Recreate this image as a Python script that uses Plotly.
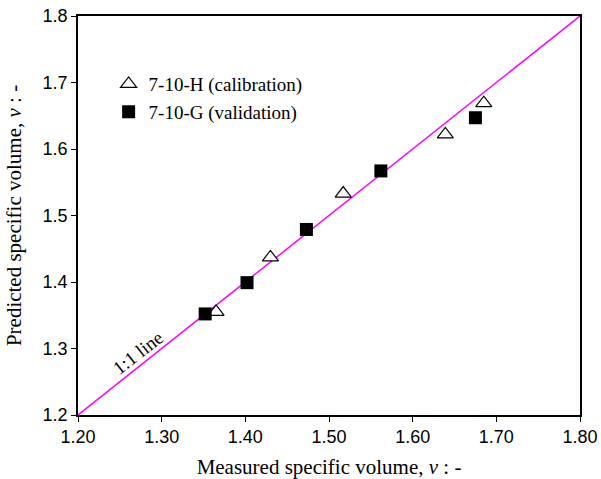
import plotly.graph_objects as go

# Data
cal_measured = [1.365, 1.430, 1.517, 1.639, 1.685]
cal_predicted = [1.355, 1.437, 1.533, 1.622, 1.669]
val_measured = [1.352, 1.402, 1.473, 1.562, 1.675]
val_predicted = [1.352, 1.399, 1.479, 1.567, 1.647]
line_vals = [1.2, 1.8]
x_ticks = [1.2, 1.3, 1.4, 1.5, 1.6, 1.7, 1.8]
x_tick_labels = ["1.20", "1.30", "1.40", "1.50", "1.60", "1.70", "1.80"]
y_ticks = [1.2, 1.3, 1.4, 1.5, 1.6, 1.7, 1.8]
y_tick_labels = ["1.2", "1.3", "1.4", "1.5", "1.6", "1.7", "1.8"]

serif = "Liberation Serif, Times New Roman, serif"
sans = "Liberation Sans, Arial, sans-serif"

fig = go.Figure()
fig.add_trace(go.Scatter(
    x=line_vals, y=line_vals, mode="lines",
    line=dict(color="#ff00ff", width=1.5), showlegend=False, hoverinfo="skip"))
fig.add_trace(go.Scatter(
    x=cal_measured, y=cal_predicted, mode="markers", name="7-10-H (calibration)",
    legendgroup="a",
    marker=dict(symbol="triangle-up", size=14, color="white",
                line=dict(color="black", width=1.2))))
fig.add_trace(go.Scatter(
    x=val_measured, y=val_predicted, mode="markers", name="7-10-G (validation)",
    legendgroup="b",
    marker=dict(symbol="square", size=13, color="black",
                line=dict(color="black", width=0))))

fig.add_annotation(x=1.272, y=1.294, xref="x", yref="y", text="1:1 line",
                   showarrow=False, textangle=-38,
                   font=dict(family=serif, size=19, color="black"))

fig.update_layout(
    width=601, height=479,
    margin=dict(l=78, r=21, t=16, b=64),
    paper_bgcolor="white", plot_bgcolor="white",
    showlegend=True,
    legend=dict(x=0.061, y=0.877, xanchor="left", yanchor="top",
                font=dict(family=serif, size=19, color="black"),
                bgcolor="rgba(0,0,0,0)", tracegroupgap=0,
                traceorder="grouped", itemwidth=30),
    xaxis=dict(range=[1.2, 1.8], tickmode="array", tickvals=x_ticks,
               ticktext=x_tick_labels, ticks="outside", ticklen=5,
               tickcolor="black", showline=True, linecolor="black",
               linewidth=1.5, mirror=True, showgrid=False, zeroline=False,
               automargin=False,
               tickfont=dict(family=sans, size=18, color="black"),
               title=dict(text="Measured specific volume, <i>v</i> : -",
                          font=dict(family=serif, size=21, color="black"))),
    yaxis=dict(range=[1.2, 1.8], tickmode="array", tickvals=y_ticks,
               ticktext=y_tick_labels, ticks="outside", ticklen=5,
               tickcolor="black", showline=True, linecolor="black",
               linewidth=1.5, mirror=True, showgrid=False, zeroline=False,
               automargin=False,
               tickfont=dict(family=sans, size=18, color="black"),
               title=dict(text="Predicted specific volume, <i>v</i> : -",
                          font=dict(family=serif, size=21, color="black"))),
)

fig.write_html("out.html")
